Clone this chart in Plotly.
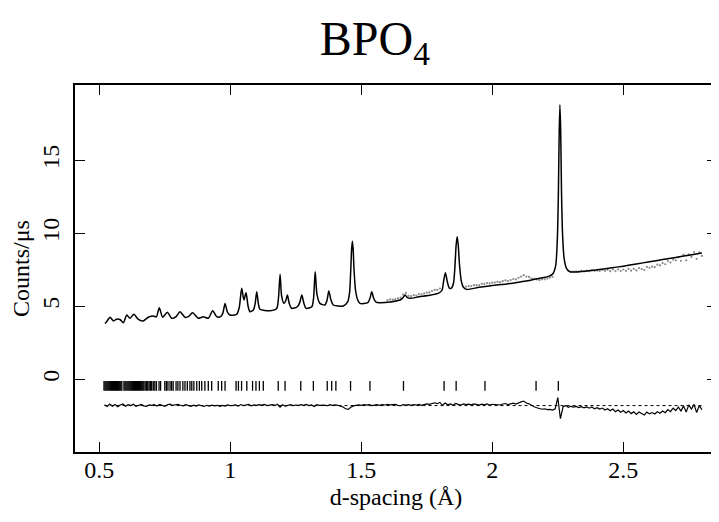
import plotly.graph_objects as go

# ---------------- data ----------------
calc_d = [0.522, 0.530, 0.541, 0.554, 0.566, 0.579, 0.592, 0.605, 0.617, 0.632,
          0.649, 0.668, 0.687, 0.706, 0.718, 0.729, 0.742, 0.760, 0.776, 0.793,
          0.808, 0.827, 0.840, 0.856, 0.878, 0.897, 0.916, 0.933, 0.948, 0.963,
          0.972, 0.980, 0.989, 0.999, 1.024, 1.034, 1.0435, 1.052, 1.060, 1.068,
          1.075, 1.088, 1.095, 1.101, 1.107, 1.113, 1.152, 1.177, 1.184, 1.190,
          1.196, 1.205, 1.212, 1.218, 1.225, 1.234, 1.256, 1.265, 1.273, 1.281,
          1.289, 1.311, 1.318, 1.324, 1.331, 1.342, 1.361, 1.369, 1.376, 1.384,
          1.393, 1.431, 1.448, 1.455, 1.460, 1.463, 1.466, 1.469, 1.472, 1.478,
          1.486, 1.495, 1.525, 1.533, 1.540, 1.547, 1.556, 1.571, 1.610, 1.650,
          1.660, 1.667, 1.676, 1.686, 1.720, 1.760, 1.795, 1.808, 1.814, 1.821,
          1.828, 1.836, 1.844, 1.852, 1.857, 1.862, 1.866, 1.870, 1.875, 1.882,
          1.890, 1.902, 1.950, 2.000, 2.055, 2.100, 2.150, 2.190, 2.215, 2.232,
          2.242, 2.248, 2.252, 2.255, 2.258, 2.261, 2.264, 2.268, 2.274, 2.283,
          2.296, 2.350, 2.400, 2.450, 2.500, 2.550, 2.600, 2.650, 2.700, 2.750,
          2.800]
calc_y = [3.83, 4.00, 4.25, 4.00, 4.12, 4.10, 3.88, 4.40, 4.18, 4.45,
          4.10, 4.00, 4.25, 4.33, 4.28, 4.90, 4.25, 4.60, 4.18, 4.29,
          4.63, 4.25, 4.29, 4.56, 4.18, 4.29, 4.18, 4.70, 4.29, 4.29,
          4.55, 5.20, 4.60, 4.40, 4.45, 4.90, 6.23, 5.43, 5.93, 5.00,
          4.63, 4.75, 5.20, 6.00, 5.20, 4.80, 4.70, 4.85, 5.60, 7.19,
          5.70, 5.20, 5.40, 5.77, 5.20, 4.86, 4.97, 5.25, 5.77, 5.20,
          4.86, 4.97, 5.60, 7.37, 5.80, 5.20, 5.09, 5.40, 6.05, 5.45,
          5.09, 5.02, 5.30, 5.90, 7.60, 8.90, 9.45, 8.90, 7.60, 6.10,
          5.45, 5.20, 5.25, 5.55, 6.00, 5.55, 5.28, 5.25, 5.30, 5.45,
          5.62, 5.77, 5.60, 5.55, 5.65, 5.75, 5.90, 6.10, 6.70, 7.30,
          6.70, 6.25, 6.25, 6.60, 7.60, 9.20, 9.77, 9.20, 7.80, 6.70,
          6.30, 6.16, 6.30, 6.42, 6.53, 6.65, 6.80, 6.95, 7.05, 7.25,
          7.80, 9.50, 12.50, 16.50, 18.80, 17.00, 13.00, 10.00, 8.30, 7.60,
          7.37, 7.40, 7.50, 7.62, 7.75, 7.90, 8.05, 8.20, 8.35, 8.50,
          8.65]

# observed points (only where they separate from the fit), grid 1.60 .. 2.80 step 0.01
obs_d_start, obs_d_step = 1.60, 0.01
obs_y = [5.42, 5.47, 5.46, 5.50, 5.55, 5.60, 5.80, 5.92, 5.72, 5.70,   # 1.60-1.69
         5.76, 5.74, 5.84, 5.82, 5.88, 5.94, 5.95, 6.05, 6.12, 6.12,   # 1.70-1.79
         6.22, None, None, None, None, None, None, None, None, None,   # 1.80-1.89
         6.35, 6.38, 6.39, 6.45, 6.45, 6.46, 6.53, 6.53, 6.59, 6.57,   # 1.90-1.99
         6.62, 6.63, 6.67, 6.65, 6.72, 6.77, 6.73, 6.80, 6.87, 6.84,   # 2.00-2.09
         6.95, 7.04, 7.13, 7.04, 7.01, 6.92, 6.88, 6.84, 6.80, 6.85,   # 2.10-2.19
         6.85, 6.90, 6.96, 7.02, None, None, None, None, None, 7.45,   # 2.20-2.29
         7.36, 7.38, 7.40, 7.38, 7.43, 7.39, 7.45, 7.41, 7.48, 7.43,   # 2.30-2.39
         7.45, 7.42, 7.50, 7.43, 7.50, 7.41, 7.53, 7.40, 7.52, 7.42,   # 2.40-2.49
         7.52, 7.43, 7.56, 7.44, 7.57, 7.46, 7.62, 7.55, 7.48, 7.70,   # 2.50-2.59
         7.64, 7.72, 7.68, 7.85, 7.80, 7.96, 7.88, 8.10, 8.00, 8.20,   # 2.60-2.69
         8.15, 8.36, 8.12, 8.54, 8.15, 8.56, 8.38, 8.72, 8.25, 8.70,   # 2.70-2.79
         8.45]                                                         # 2.80

# difference (obs - calc), grid 0.52 .. 2.80 step 0.01
diff_d_start, diff_d_step = 0.52, 0.01
diff_y = [0.06, -0.06, 0.10, -0.04, 0.08, -0.08, 0.04, 0.11, -0.05, 0.06,
          0.00, 0.09, -0.05, 0.03, 0.08, -0.02, -0.06, 0.05, 0.01, 0.07,
          -0.03, 0.08, 0.02, -0.05, 0.06, 0.10, 0.01, 0.04, 0.09, 0.02,
          -0.02, 0.06, 0.01, -0.05, 0.03, -0.03, 0.05, 0.00, -0.06, 0.02,
          -0.04, 0.03, -0.02, 0.02, -0.05, 0.01, -0.03, 0.04, 0.00, 0.02,
          0.05, -0.04, 0.07, 0.00, 0.03, 0.08, -0.02, 0.05, 0.01, 0.06,
          0.03, 0.08, 0.00, 0.04, 0.07, 0.01, 0.09, -0.10, 0.06, -0.04,
          0.03, 0.07, 0.00, 0.04, 0.01, 0.06, 0.02, 0.08, 0.00, 0.04,
          -0.06, 0.06, 0.01, 0.04, 0.03, -0.01, 0.06, 0.01, 0.05, 0.02,
          -0.03, -0.10, -0.22, -0.26, -0.12, -0.02, 0.02, 0.05, 0.02, 0.06,
          0.03, 0.07, 0.00, 0.05, 0.06, 0.01, 0.07, 0.04, 0.08, 0.05,
          0.04, 0.08, 0.01, -0.01, 0.06, 0.03, 0.07, 0.01, 0.06, 0.04,
          0.08, 0.02, 0.07, 0.11, 0.08, 0.16, 0.19, 0.13, 0.22, 0.02,
          0.17, 0.05, 0.11, 0.02, 0.14, 0.08, 0.04, 0.11, 0.06, 0.10,
          0.05, 0.11, 0.07, 0.03, 0.10, 0.05, 0.11, 0.04, 0.09, 0.07,
          0.10, 0.04, 0.11, 0.14, 0.06, 0.12, 0.16, 0.10, 0.19, 0.25,
          0.31, 0.18, 0.12, 0.00, -0.08, -0.15, -0.21, -0.25, -0.22, -0.28,
          -0.26, -0.31, -0.22, 0.55, -0.90, -0.08, 0.00, -0.12, -0.05, -0.10,
          -0.06, -0.14, -0.08, -0.16, -0.09, -0.18, -0.10, -0.22, -0.14, -0.24,
          -0.17, -0.30, -0.22, -0.36, -0.24, -0.42, -0.30, -0.45, -0.34, -0.50,
          -0.37, -0.55, -0.42, -0.60, -0.44, -0.52, -0.65, -0.45, -0.57, -0.48,
          -0.58, -0.42, -0.52, -0.37, -0.49, -0.27, -0.42, -0.17, -0.34, -0.10,
          -0.38, -0.02, -0.44, 0.05, -0.24, 0.08, -0.48, 0.00, -0.28]

# reflection positions (d-spacing, Å)
refl_d = [0.518, 0.522, 0.526, 0.530, 0.534, 0.538, 0.542, 0.546, 0.550, 0.554,
          0.558, 0.562, 0.566, 0.570, 0.574, 0.578, 0.582, 0.586, 0.594, 0.598,
          0.602, 0.606, 0.610, 0.614, 0.618, 0.622, 0.626, 0.630, 0.634, 0.638,
          0.642, 0.646, 0.650, 0.654, 0.658, 0.662, 0.666, 0.670, 0.675, 0.680,
          0.685, 0.690, 0.695, 0.700, 0.706, 0.712, 0.718, 0.728, 0.734, 0.750,
          0.756, 0.762, 0.770, 0.776, 0.782, 0.793, 0.800, 0.808, 0.819, 0.827,
          0.836, 0.846, 0.853, 0.861, 0.872, 0.882, 0.891, 0.903, 0.916, 0.929,
          0.954, 0.967, 0.980, 1.022, 1.031, 1.043, 1.063, 1.085, 1.098, 1.111,
          1.126, 1.183, 1.209, 1.269, 1.317, 1.370, 1.387, 1.403, 1.459, 1.533,
          1.661, 1.816, 1.862, 1.972, 2.167, 2.252]

DIFF_OFFSET = -1.8
REFL_LEVEL = -0.45

# ---------------- figure ----------------
# (the page body has an 8 px margin, so the figure is 8 px smaller on each axis)
FONT = "Liberation Serif"
diff_d = [diff_d_start + i * diff_d_step for i in range(len(diff_y))]
obs_d = [obs_d_start + i * obs_d_step for i in range(len(obs_y))]

fig = go.Figure()
fig.add_trace(go.Scatter(x=[diff_d[0], diff_d[-1]], y=[DIFF_OFFSET, DIFF_OFFSET],
                         mode="lines", line=dict(color="black", width=1, dash="dot"),
                         hoverinfo="skip"))
fig.add_trace(go.Scatter(x=obs_d, y=obs_y, mode="markers",
                         marker=dict(color="#8a8a8a", size=2.2), hoverinfo="skip"))
fig.add_trace(go.Scatter(x=calc_d, y=calc_y, mode="lines",
                         line=dict(color="black", width=1.5, shape="spline",
                                   smoothing=0.7)))
fig.add_trace(go.Scatter(x=diff_d, y=[v + DIFF_OFFSET for v in diff_y], mode="lines",
                         line=dict(color="black", width=1.2)))
fig.add_trace(go.Scatter(x=refl_d, y=[REFL_LEVEL] * len(refl_d), mode="markers",
                         marker=dict(symbol="line-ns", size=7,
                                     line=dict(color="black", width=1.3))))

axis_common = dict(showgrid=False, zeroline=False, showline=True, linecolor="black",
                   linewidth=1.5, mirror="ticks", ticks="inside", ticklen=10,
                   tickwidth=1.3, tickcolor="black", automargin=False,
                   tickfont=dict(family=FONT, size=24, color="black"))

fig.update_layout(
    width=711, height=514,
    margin=dict(l=67, r=2, t=77, b=70),
    paper_bgcolor="white", plot_bgcolor="white",
    showlegend=False,
    title=dict(text="BPO<sub>4</sub>", x=0.516, xanchor="center", xref="container",
               y=1 - 13 / 514, yanchor="top", yref="container",
               font=dict(family=FONT, size=48, color="black")),
    xaxis=dict(range=[0.4073, 2.8576], tickvals=[0.5, 1, 1.5, 2, 2.5],
               ticktext=["0.5", "1", "1.5", "2", "2.5"], ticklabelstandoff=-5,
               title=dict(text="d-spacing (Å)", standoff=7,
                          font=dict(family=FONT, size=24, color="black")),
               **axis_common),
    yaxis=dict(range=[-4.98, 20.16], tickvals=[0, 5, 10, 15], tickangle=-90,
               ticklabelstandoff=5,
               title=dict(text="Counts/μs", standoff=6,
                          font=dict(family=FONT, size=24, color="black")),
               **axis_common),
)

fig.write_html("out.html")
